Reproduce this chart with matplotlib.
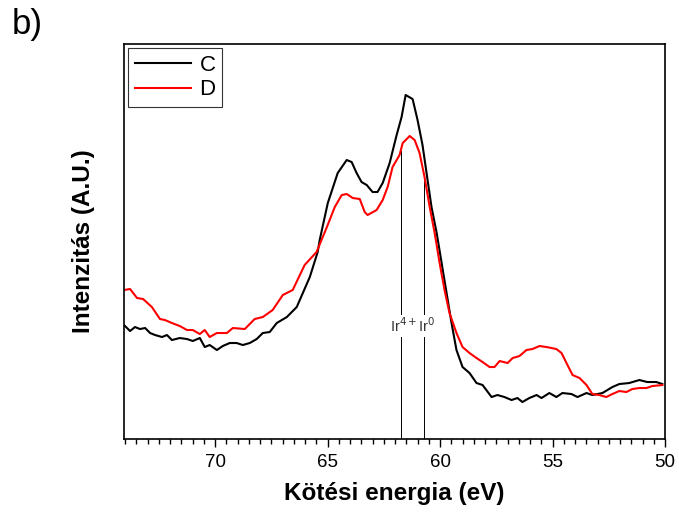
import numpy as np
import matplotlib
matplotlib.use("Agg")
import matplotlib.pyplot as plt
from matplotlib.ticker import MultipleLocator

plt.rcParams['font.family'] = ['Liberation Sans', 'DejaVu Sans']

# Binding energy (eV) and intensity (arbitrary units)
energy_C = [74.05, 73.78, 73.56, 73.34, 73.11, 72.89, 72.67, 72.36, 72.14, 71.92,
            71.57, 71.25, 70.99, 70.68, 70.46, 70.24, 69.92, 69.66, 69.35, 69.04,
            68.77, 68.46, 68.15, 67.88, 67.57, 67.26, 66.81, 66.37, 66.10, 65.79,
            65.44, 65.35, 64.99, 64.55, 64.15, 63.93, 63.71, 63.49, 63.26, 63.00,
            62.78, 62.55, 62.24, 61.93, 61.71, 61.53, 61.22, 61.00, 60.78, 60.60,
            60.38, 60.15, 59.93, 59.71, 59.49, 59.27, 59.00, 58.69, 58.38, 58.11,
            57.71, 57.45, 57.14, 56.82, 56.56, 56.34, 56.03, 55.71, 55.49, 55.14,
            54.83, 54.56, 54.16, 53.89, 53.49, 53.23, 52.78, 52.34, 52.03, 51.59,
            51.14, 50.79, 50.39, 50.12]
intensity_C = [114, 108, 112, 110, 111, 106, 104, 102, 104, 99,
               101, 100, 98, 101, 92, 94, 89, 93, 96, 96,
               94, 96, 100, 106, 107, 116, 122, 132, 146, 162,
               187, 199, 236, 266, 279, 277, 266, 257, 254, 247,
               247, 256, 276, 304, 322, 344, 340, 319, 294, 266,
               232, 206, 176, 146, 116, 89, 72, 66, 56, 54,
               42, 44, 42, 39, 41, 37, 41, 44, 41, 46,
               42, 46, 45, 42, 46, 44, 46, 52, 55, 56,
               59, 57, 57, 55]

energy_D = [74.05, 73.78, 73.47, 73.20, 72.81, 72.45, 72.23, 71.92, 71.57, 71.25,
            70.99, 70.68, 70.46, 70.24, 69.92, 69.48, 69.21, 68.68, 68.24, 67.88,
            67.44, 66.99, 66.55, 66.02, 65.49, 65.03, 64.68, 64.37, 64.15, 63.88,
            63.57, 63.35, 63.22, 62.82, 62.55, 62.33, 62.11, 61.80, 61.66, 61.35,
            61.13, 60.91, 60.69, 60.46, 60.24, 60.02, 59.80, 59.58, 59.27, 59.00,
            58.69, 58.38, 58.11, 57.80, 57.58, 57.35, 57.00, 56.77, 56.47, 56.16,
            55.89, 55.58, 55.27, 54.83, 54.60, 54.38, 54.11, 53.80, 53.49, 53.23,
            52.92, 52.61, 52.34, 52.03, 51.72, 51.45, 51.14, 50.83, 50.56, 50.12]
intensity_D = [149, 150, 141, 140, 132, 120, 119, 116, 113, 109,
               109, 105, 109, 102, 106, 106, 111, 110, 120, 122,
               129, 144, 149, 174, 187, 212, 232, 244, 245, 241,
               240, 227, 224, 229, 239, 252, 272, 284, 296, 303,
               299, 286, 262, 232, 206, 176, 149, 126, 106, 92,
               86, 81, 77, 72, 72, 78, 76, 81, 83, 89,
               90, 93, 92, 90, 86, 76, 64, 61, 54, 45,
               44, 42, 45, 48, 47, 50, 51, 51, 53, 54]

series_labels = ["C", "D"]
peak_positions = [61.75, 60.7]   # Ir4+, Ir0
peak_label = r"Ir$^{4+}$Ir$^{0}$"

fig = plt.figure(figsize=(6.79, 5.19), dpi=100)
ax = fig.add_axes([0.1826, 0.1541, 0.7968, 0.7611])

ax.plot(energy_C, intensity_C, color='black', lw=1.5, label=series_labels[0])
ax.plot(energy_D, intensity_D, color='#ff0000', lw=1.5, label=series_labels[1])

eC = np.array(energy_C)[::-1]; iC = np.array(intensity_C)[::-1]
eD = np.array(energy_D)[::-1]; iD = np.array(intensity_D)[::-1]
for p in peak_positions:
    top = min(np.interp(p, eC, iC), np.interp(p, eD, iD))
    ax.plot([p, p], [0, top], color='black', lw=0.7, zorder=1)

ax.text(np.mean(peak_positions), 113, peak_label, ha='center', va='center',
        fontsize=10.5, color='#333333', zorder=3,
        bbox=dict(facecolor='white', edgecolor='none', pad=1.5))

ax.set_xlim(74.05, 50)
ax.set_ylim(0, 395)
ax.xaxis.set_major_locator(MultipleLocator(5))
ax.xaxis.set_minor_locator(MultipleLocator(0.5))
ax.set_yticks([])
ax.tick_params(axis='x', which='major', direction='out', length=6, width=1.0,
               labelsize=13.5, pad=5)
ax.tick_params(axis='x', which='minor', direction='out', length=3.5, width=1.0)
for s in ax.spines.values():
    s.set_linewidth(1.2)

ax.set_xlabel("Kötési energia (eV)", fontsize=17.5, fontweight='bold', labelpad=8)
ax.set_ylabel("Intenzitás (A.U.)", fontsize=17.5, fontweight='bold', labelpad=21)

leg = ax.legend(loc='upper left', fontsize=16, frameon=True, fancybox=False,
                edgecolor='black', handlelength=2.5, borderaxespad=0.2,
                borderpad=0.3, labelspacing=0.15, handletextpad=0.4)
leg.get_frame().set_linewidth(0.8)

fig.text(0.017, 0.985, "b)", fontsize=25, ha='left', va='top')

fig.savefig("out.png", dpi=100)
